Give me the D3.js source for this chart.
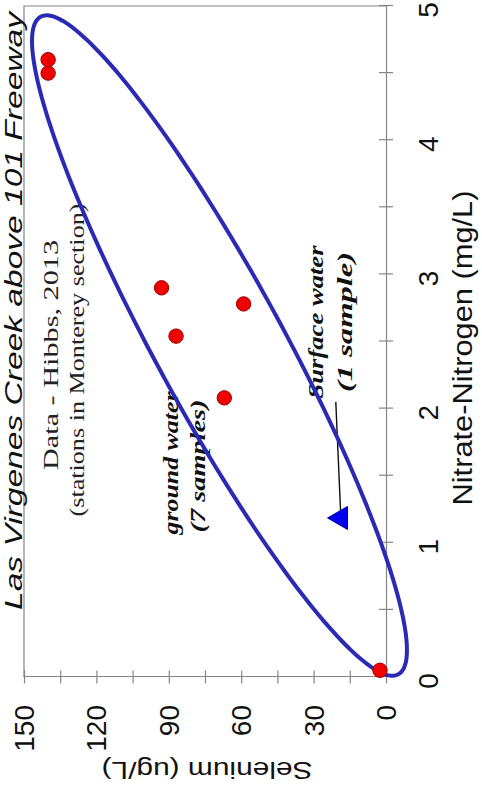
<!DOCTYPE html>
<html><head><meta charset="utf-8">
<script src="https://cdn.jsdelivr.net/npm/d3@7"></script>
<style>html,body{margin:0;padding:0;background:#fff;overflow:hidden}</style>
</head><body>
<svg id="chart" width="482" height="796" xmlns="http://www.w3.org/2000/svg"></svg>
<script>
// ---- data ----
const nitrateTicks = [0, 1, 2, 3, 4, 5];
const nitrateMinorStep = 0.5;
const seleniumTicks = [0, 30, 60, 90, 120, 150];
const seleniumMinorStep = 15;
const groundNitrate = [0.05, 4.6, 4.5, 2.9, 2.78, 2.54, 2.08];
const groundSelenium = [2.5, 140, 140, 93, 59, 87, 67];
const surfaceNitrate = [1.185];
const surfaceSelenium = [18.7];
const ellipseCenter = [2.47, 69];
const ellipseAxisA = [2.45, 74.1];
const ellipseAxisB = [0.227, -23.3];
const arrowFrom = [2.05, 20.8];
const titleText = "Las Virgenes Creek above 101 Freeway";
const xLabel = "Nitrate-Nitrogen (mg/L)";
const yLabel = "Selenium (ug/L)";
const noteLines = ["Data - Hibbs, 2013", "(stations in Monterey section)"];
const groundLines = ["ground water", "(7 samples)"];
const surfaceLines = ["Surface water", "(1 sample)"];

// ---- layout (chart drawn unrotated, then turned -90deg) ----
const W = 796, H = 482;
const SANS = "'Liberation Sans', Arial, sans-serif";
const SERIF = "'Liberation Serif', 'Times New Roman', serif";
const svg = d3.select("#chart");
svg.append("rect").attr("width", 482).attr("height", 796).attr("fill", "#fff");
const g = svg.append("g").attr("transform", `translate(0,${W}) rotate(-90)`);

const x = d3.scaleLinear().domain([0, 5]).range([119, 790]);
const y = d3.scaleLinear().domain([0, 150]).range([386, 24]);
const axisColor = "#858585";

// frame (top and right)
g.append("path")
  .attr("d", `M${x(0)},${y(150)}H${x(5)}V${y(0)}`)
  .attr("fill", "none").attr("stroke", axisColor).attr("stroke-width", 1.2);

// x axis (nitrate)
const xAxisG = g.append("g").attr("transform", `translate(0,${y(0)})`)
  .call(d3.axisBottom(x).tickValues(d3.range(0, 5 + 1e-9, nitrateMinorStep))
    .tickSize(7).tickSizeOuter(0).tickFormat(""));
xAxisG.selectAll(".tick line").attr("y1", -7);
xAxisG.selectAll("path,line").attr("stroke", axisColor).attr("stroke-width", 1.2);

// y axis (selenium)
const yAxisG = g.append("g").attr("transform", `translate(${x(0)},0)`)
  .call(d3.axisLeft(y).tickValues(d3.range(0, 150 + 1e-9, seleniumMinorStep))
    .tickSize(6.5).tickSizeOuter(0).tickFormat(""));
yAxisG.selectAll(".tick line").attr("x1", 6.5);
yAxisG.selectAll("path,line").attr("stroke", axisColor).attr("stroke-width", 1.2);

// tick labels
g.append("g").selectAll("text").data(nitrateTicks).join("text")
  .attr("x", d => x(d) - 4).attr("y", 438)
  .attr("text-anchor", "middle")
  .attr("font-family", SANS).attr("font-size", 28).attr("fill", "#111")
  .text(d => d);
g.append("g").selectAll("text").data(seleniumTicks).join("text")
  .attr("x", 91).attr("y", d => y(d)).attr("dy", "0.36em")
  .attr("text-anchor", "end")
  .attr("font-family", SANS).attr("font-size", 28).attr("fill", "#111")
  .text(d => d);

// axis titles
g.append("text")
  .attr("x", 448).attr("y", 472).attr("text-anchor", "middle")
  .attr("font-family", SANS).attr("font-size", 27).attr("fill", "#111")
  .attr("textLength", 315).attr("lengthAdjust", "spacingAndGlyphs")
  .text(xLabel);
g.append("text")
  .attr("transform", `translate(34,${(y(0) + y(150)) / 2 + 2}) rotate(-90)`)
  .attr("text-anchor", "middle")
  .attr("font-family", SANS).attr("font-size", 24).attr("fill", "#111")
  .attr("textLength", 211).attr("lengthAdjust", "spacingAndGlyphs")
  .text(yLabel);

// title
g.append("text")
  .attr("x", 186).attr("y", 21.5).attr("text-anchor", "start")
  .attr("font-family", SANS).attr("font-style", "italic").attr("font-size", 23)
  .attr("fill", "#111")
  .attr("textLength", 598).attr("lengthAdjust", "spacingAndGlyphs")
  .text(titleText);

// annotations
const notePos = [[441, 58, 230], [436, 84, 313]];
noteLines.forEach((t, i) => {
  g.append("text").attr("x", notePos[i][0]).attr("y", notePos[i][1])
    .attr("text-anchor", "middle").attr("font-family", SERIF).attr("font-size", 20)
    .attr("fill", "#222")
    .attr("textLength", notePos[i][2]).attr("lengthAdjust", "spacingAndGlyphs")
    .text(t);
});
const groundPos = [[333, 178, 143], [330, 205, 133]];
groundLines.forEach((t, i) => {
  g.append("text").attr("x", groundPos[i][0]).attr("y", groundPos[i][1])
    .attr("text-anchor", "middle").attr("font-family", SERIF).attr("font-size", 21)
    .attr("font-weight", "bold").attr("font-style", "italic").attr("fill", "#111")
    .attr("textLength", groundPos[i][2]).attr("lengthAdjust", "spacingAndGlyphs")
    .text(t);
});
const surfacePos = [[474, 323, 153], [474, 352, 140]];
surfaceLines.forEach((t, i) => {
  g.append("text").attr("x", surfacePos[i][0]).attr("y", surfacePos[i][1])
    .attr("text-anchor", "middle").attr("font-family", SERIF).attr("font-size", 21)
    .attr("font-weight", "bold").attr("font-style", "italic").attr("fill", "#111")
    .attr("textLength", surfacePos[i][2]).attr("lengthAdjust", "spacingAndGlyphs")
    .text(t);
});

// arrow to surface-water sample
g.append("line")
  .attr("x1", x(arrowFrom[0])).attr("y1", y(arrowFrom[1]))
  .attr("x2", x(surfaceNitrate[0])).attr("y2", y(surfaceSelenium[0]))
  .attr("stroke", "#111").attr("stroke-width", 1.4);

// ellipse enclosing the samples
const ellPts = d3.range(0, 360, 2).map(deg => {
  const t = deg * Math.PI / 180, c = Math.cos(t), s = Math.sin(t);
  return [x(ellipseCenter[0] + c * ellipseAxisA[0] + s * ellipseAxisB[0]),
          y(ellipseCenter[1] + c * ellipseAxisA[1] + s * ellipseAxisB[1])];
});
g.append("path").attr("d", d3.line().curve(d3.curveCardinalClosed)(ellPts))
  .attr("fill", "none").attr("stroke", "#2a2ab4").attr("stroke-width", 4);

// ground water samples
g.append("g").selectAll("circle").data(groundNitrate.map((n, i) => [n, groundSelenium[i]]))
  .join("circle")
  .attr("cx", d => x(d[0])).attr("cy", d => y(d[1])).attr("r", 7.2)
  .attr("fill", "#f00000").attr("stroke", "#9a0000").attr("stroke-width", 1);

// surface water sample
g.append("g").selectAll("path").data(surfaceNitrate.map((n, i) => [n, surfaceSelenium[i]]))
  .join("path")
  .attr("transform", d => `translate(${x(d[0])},${y(d[1])})`)
  .attr("d", d3.symbol(d3.symbolTriangle, 230))
  .attr("fill", "#0000f0").attr("stroke", "#00009a").attr("stroke-width", 1);
</script>
</body></html>
